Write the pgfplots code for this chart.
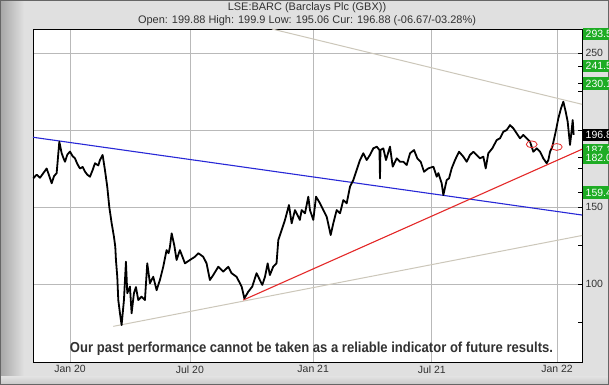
\documentclass[border=0pt]{standalone}
\usepackage{fontspec}
\setmainfont{Liberation Sans}
\usepackage{graphicx}
\usepackage{pgfplots}
\usepackage{pgfplotstable}
\pgfplotsset{compat=1.18}
\definecolor{lblgreen}{RGB}{30,172,36}
\definecolor{trendblue}{RGB}{40,40,215}
\definecolor{trendred}{RGB}{228,40,40}
\definecolor{trendgray}{RGB}{204,199,186}
\definecolor{gridgray}{RGB}{185,185,185}
\definecolor{framegray}{RGB}{224,224,224}
\definecolor{txtgray}{RGB}{50,50,50}
\pgfplotstableread{
day price
-55.1 168.6
-50 171
-45 169
-40 172
-35 175
-31 170
-27.5 165.4
-24 170
-20 172
-16 192.4
-12.5 185
-10 182
-7.5 179.4
-4 184
0 186
4 183
7.5 181.6
11 178
15 175
19 176
22.5 173
26 171
30 169.7
34 174
37.5 178.4
42.5 177
45 180.5
49 183.8
52.5 174
56 163
59 150
62.5 139.6
66 130.7
68 124.2
69 115.6
71 104.7
72.5 89.6
75 81
77.5 73.4
81 89.6
84 114.5
86 94
90 98.3
92.5 81
96 94
99 98
102.5 89.6
107.5 91.8
112.5 89.6
116 113.4
120 100.5
125 104.7
130 96
135 102.6
140 111.2
145 122
148 120
150 124
152.6 132.9
156.6 125
160 115.6
165 122
172.6 113.4
180 115.6
187.6 117.7
192.6 120
200 117.7
205 113.4
210 102.6
215 105.8
222.6 111.2
230 108
237.6 111.2
242.6 107
250 104.7
257.7 98.3
261.7 90.7
267.6 95
273.6 98.3
280 107
285 102.6
288.7 99.4
292.7 104.7
296.7 113.4
300 105.8
305 111.2
310 113.4
312.7 128.6
317.7 135
322.7 141.6
328.7 151.3
332.7 139.4
337.7 148
342.7 143.7
345 141.6
347.7 148
352.7 145.9
357.7 156.7
360.2 148
365.2 141.6
369.3 156.7
375.3 152.4
380.2 148
385.3 143.7
391.3 131.8
395.2 139.4
400.3 148
405.3 145.9
410.2 154.5
415.3 152.4
420.3 163.2
425.3 167.5
430.3 174
435.3 180.5
440.3 184.9
445.3 180.5
450.3 183.8
455.3 188.1
460.4 189.2
464.5 187
465.3 168.6
466 187
470.3 188.1
474.3 180.5
480.3 189.2
484.4 176.2
490.4 181.6
495.3 179.4
500.3 179.4
505.4 177.3
510.4 184.9
516.4 187
521.3 181.6
526.4 179.4
531.4 172.9
537.8 175.1
545.4 176.2
550.4 169.7
552.9 172
557.9 165.4
560.4 157.8
565.4 167.5
568.9 168.6
572.9 175.1
577.9 180.5
583.9 185.9
590.4 182.7
595.4 179.4
600.4 183.8
605.4 185.9
610.4 183.8
615.4 181.6
620.4 182.7
624 175.1
627.9 184.9
633.9 188.1
640.5 193.5
645.5 194.6
650.4 198.9
655.5 200
660.5 203.2
665.4 201.1
670.5 197.8
675.5 194.6
680.4 196.8
685.5 194.6
690.5 192.4
695.4 185.9
700.5 188.1
705.5 185.9
710.4 181.6
715.5 178.4
718 180.5
720.5 185.9
724 189.2
729 198.9
733 207.6
737 214.1
740.5 218.4
744 211.9
747 205.4
750.5 190.3
753 200
754.5 206.5
756 196.9
}\pricedata
\begin{document}
\begin{tikzpicture}
\clip (0bp,0bp) rectangle (609bp,385bp);
\fill[framegray] (0bp,0bp) rectangle (609bp,385bp);
\shade[left color=gray!70, right color=framegray] (0bp,0bp) rectangle (24bp,385bp);
\shade[bottom color=gray!45, top color=framegray] (0bp,0bp) rectangle (609bp,8bp);
\draw[gray!80!black, line width=1.4bp] (0.7bp,0.7bp) rectangle (608.3bp,384.3bp);
\begin{axis}[
  at={(33bp,23bp)}, anchor=south west,
  scale only axis, width=549bp, height=333bp,
  xmin=-55.5, xmax=768.5, ymin=49.35, ymax=265.6,
  clip=false,
  axis background/.style={fill=white},
  axis line style={black, line width=0.9bp},
  xtick={0,180,365,543,731},
  xticklabels={Jan 20,Jul 20,Jan 21,Jul 21,Jan 22},
  x tick label style={font=\fontsize{10.5}{12}\selectfont, text=txtgray},
  xtick style={draw=none},
  ytick={100,150,200,250},
  yticklabels={100,150,,250},
  minor ytick={75,125,175,225},
  extra y ticks={241.5,230.1,182,159.4},
  extra y tick labels={},
  extra y tick style={grid=none},
  ytick pos=right, yticklabel pos=right,
  y tick label style={font=\fontsize{10.5}{12}\selectfont, text=txtgray},
  major tick length=4bp, minor tick length=4bp,
  ytick style={black, line width=0.8bp},
  minor tick style={black, line width=0.8bp},
  grid=major, major grid style={gridgray, line width=0.8bp},
  /pgf/number format/assume math mode=true,
]
\addplot[trendgray, line width=1bp] coordinates {(303.2,265.6) (768.5,216.7)};
\addplot[trendgray, line width=1bp] coordinates {(65,72.5) (768.5,131.5)};
\addplot[trendblue, line width=1.1bp] coordinates {(-55.5,195.3) (768.5,144.8)};
\addplot[trendred, line width=1.1bp] coordinates {(260.1,89.6) (768.5,187.5)};
\addplot[black, line width=1.8bp, line join=round] table[x=day,y=price]{\pricedata};
\addplot[only marks, mark=o, mark size=3.4bp, mark options={trendred, xscale=1.6, line width=0.8bp}] coordinates {(693,190.7) (730.6,189)};
\tikzset{lbl/.style={fill=lblgreen, text=white, anchor=west, xshift=1bp, inner xsep=2.5bp, inner ysep=0bp, minimum height=12.5bp, text width=28bp, align=left, font=\fontsize{10.5}{12}\selectfont}}
\node[lbl] at (axis cs:768.5,262.3) {293.5};
\node[lbl] at (axis cs:768.5,241.5) {241.5};
\node[lbl] at (axis cs:768.5,230.1) {230.1};
\node[lbl] at (axis cs:768.5,187.1) {187.1};
\node[lbl] at (axis cs:768.5,182.0) {182.0};
\node[lbl] at (axis cs:768.5,159.4) {159.4};
\node[lbl, fill=black] at (axis cs:768.5,196.8) {196.8};
\end{axis}
\node[text=txtgray, font=\fontsize{11}{13}\selectfont] at (307bp,377bp) {LSE:BARC (Barclays Plc (GBX))};
\node[text=txtgray, font=\fontsize{11}{13}\selectfont] at (307bp,364bp) {Open: 199.88 High: 199.9 Low: 195.06 Cur: 196.88 (-06.67/-03.28\%)};
\node[text=txtgray, anchor=base] at (311.5bp,33bp) {\resizebox{483bp}{\height}{\fontsize{14.5}{16}\selectfont\bfseries Our past performance cannot be taken as a reliable indicator of future results.}};
\end{tikzpicture}
\end{document}
